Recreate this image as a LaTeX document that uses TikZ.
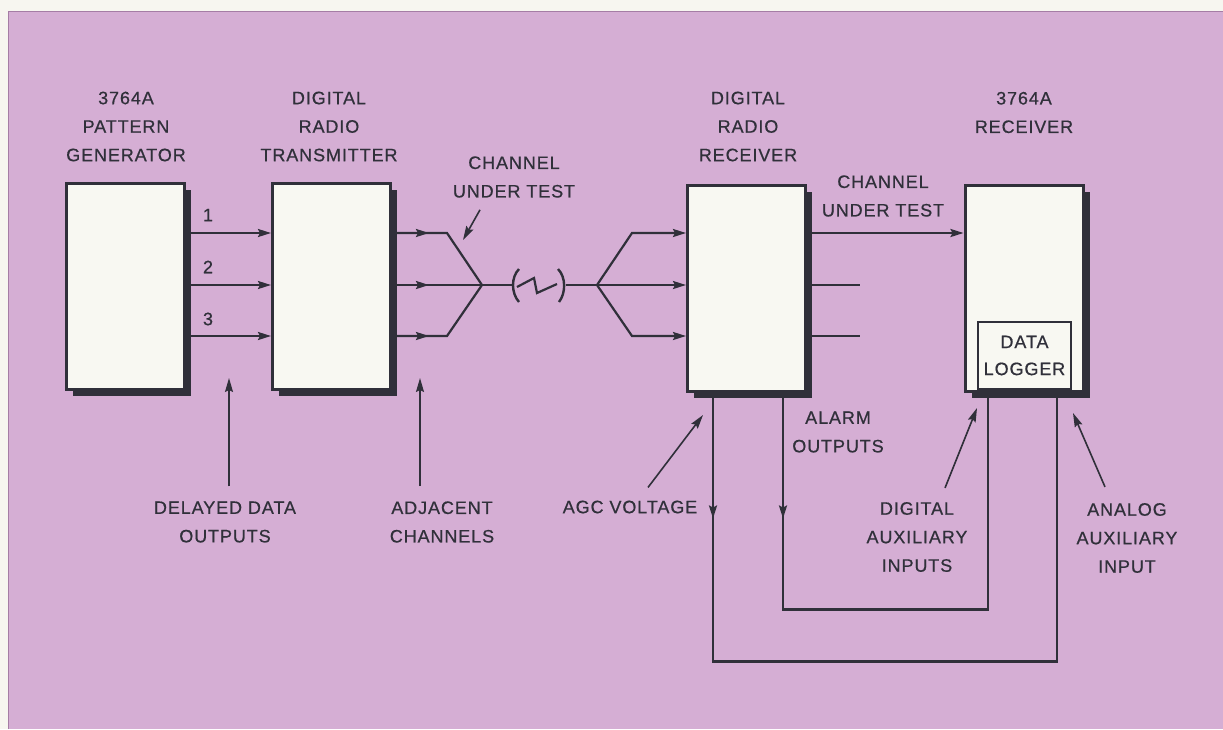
\documentclass[tikz,border=0pt]{standalone}
\usepackage{fontspec}
\setmainfont{Liberation Sans}[LetterSpace=5, FakeBold=0.6]
\usetikzlibrary{arrows.meta, decorations.markings, shadows}

\definecolor{paper}{RGB}{247,246,240}
\definecolor{panel}{RGB}{213,174,212}
\definecolor{panelrim}{RGB}{165,125,165}
\definecolor{ink}{RGB}{48,48,58}
\definecolor{boxwhite}{RGB}{248,248,242}

\begin{document}
\begin{tikzpicture}[x=1pt, y=-1pt,
  unitbox/.style={draw=ink, line width=3pt, fill=boxwhite, minimum width=118pt,
    minimum height=206pt, inner sep=0pt,
    drop shadow={shadow xshift=6.5pt, shadow yshift=-6.5pt, fill=ink, opacity=1}},
  logbox/.style={draw=ink, line width=2pt, fill=boxwhite, minimum width=93pt,
    minimum height=67pt, inner sep=0pt, text=ink, align=center,
    font=\fontsize{18pt}{27pt}\selectfont},
  lbl/.style={text=ink, align=center, inner sep=0pt, font=\fontsize{18pt}{28.5pt}\selectfont},
  conn/.style={draw=ink, line width=2.2pt},
  endtip/.style={-{Stealth[length=13pt,width=8pt,inset=2pt]}},
  midarrow/.style={postaction={decorate}, decoration={markings,
    mark=at position #1 with {\arrow{Stealth[length=13pt,width=8pt,inset=2pt]}}}},
  ptr/.style={draw=ink, line width=1.6pt, -{Stealth[length=14pt,width=8pt,inset=2pt]}}
]
\useasboundingbox (0,0) rectangle (1223,729);

% Panel
\fill[paper] (0,0) rectangle (1223,729);
\fill[panel] (8,11) rectangle (1223,729);
\draw[panelrim, line width=1pt] (8,729) -- (8,11) -- (1223,11);

% Units
\node[unitbox] (gen) at (125.5,286) {};
\node[unitbox] (tx) at (331.5,286) {};
\node[unitbox] (rx) at (746.5,288) {};
\node[unitbox] (rx2) at (1024,288) {};
\node[logbox] (log) at (1024.5,355.5) {DATA\\LOGGER};

% Unit titles
\node[lbl] (genl) at (126,126.5) {3764A\\PATTERN\\GENERATOR};
\node[lbl] (txl) at (329,126.5) {DIGITAL\\RADIO\\TRANSMITTER};
\node[lbl] (rxl) at (748,126.5) {DIGITAL\\RADIO\\RECEIVER};
\node[lbl] (rx2l) at (1024,112.5) {3764A\\RECEIVER};

% Rows and link points
\coordinate (r1) at (0,233);
\coordinate (r2) at (0,285);
\coordinate (r3) at (0,336);
\coordinate (fanL) at (482,285);
\coordinate (fanR) at (597,285);
\coordinate (gap) at (539,285);

% Delayed data outputs
\foreach \r/\n/\yy in {r1/1/215, r2/2/267, r3/3/319} {
  \draw[conn, endtip] (gen.east |- \r) -- (tx.west |- \r);
  \node[lbl] (n\n) at (208,\yy) {\n};
}

% Transmitter to link
\draw[conn, midarrow=37pt] (tx.east |- r1) -- (447,233) -- (fanL);
\draw[conn, midarrow=37pt] (tx.east |- r2) -- (fanL);
\draw[conn, midarrow=37pt] (tx.east |- r3) -- (447,336) -- (fanL);

% Radio link
\draw[conn] (fanL) -- ([xshift=-27pt]gap);
\draw[conn] ([xshift=27pt]gap) -- (fanR);
\begin{scope}[shift={(gap)}]
\draw[conn, line width=2.4pt] (-20,-16) .. controls (-28,-8) and (-28,8) .. (-20,17);
\draw[conn] (-22,2) -- (-5,-7) -- (-2,8) -- (18,-1);
\draw[conn, line width=2.4pt] (19,-16) .. controls (27,-8) and (27,8) .. (20,17);
\end{scope}

% Link to receiver
\draw[conn, endtip] (fanR) -- (632,233) -- (rx.west |- r1);
\draw[conn, endtip] (fanR) -- (rx.west |- r2);
\draw[conn, endtip] (fanR) -- (632,336) -- (rx.west |- r3);

% Receiver outputs
\draw[conn, endtip] (rx.east |- r1) -- (rx2.west |- r1);
\draw[conn] (rx.east |- r2) -- ++(53,0);
\draw[conn] (rx.east |- r3) -- ++(53,0);
\node[lbl] (chan2) at (883,196) {CHANNEL\\UNDER TEST};

% AGC and alarm loops
\draw[conn, midarrow=126pt] ([xshift=-33.5pt]rx.south) -- ++(0,269) -| ([xshift=33pt]rx2.south);
\draw[conn, midarrow=126pt] ([xshift=36.5pt]rx.south) -- ++(0,217) -| ([xshift=-36pt]rx2.south);
\node[lbl] (alm) at (838,432) {ALARM\\OUTPUTS};

% Callouts
\node[lbl] (chan1) at (514,177) {CHANNEL\\UNDER TEST};
\node[lbl] (dly) at (225,522) {DELAYED DATA\\OUTPUTS};
\node[lbl] (adj) at (442,522) {ADJACENT\\CHANNELS};
\node[lbl] (agc) at (630,507) {AGC VOLTAGE};
\node[lbl] (dig) at (917,537) {DIGITAL\\AUXILIARY\\INPUTS};
\node[lbl] (ana) at (1127,538) {ANALOG\\AUXILIARY\\INPUT};
\coordinate (h-chan) at (463,240);
\coordinate (h-dly) at (229,378);
\coordinate (h-adj) at (420,378);
\coordinate (h-agc) at (703,415);
\coordinate (h-dig) at (977,408);
\coordinate (h-ana) at (1073,413);
\draw[ptr] ([shift={(-34pt,-12pt)}]chan1.south) -- (h-chan);
\draw[ptr] ([shift={(4pt,15pt)}]dly.north) -- (h-dly);
\draw[ptr] ([shift={(-22pt,15pt)}]adj.north) -- (h-adj);
\draw[ptr] ([shift={(18pt,13pt)}]agc.north) -- (h-agc);
\draw[ptr] ([shift={(28pt,14pt)}]dig.north) -- (h-dig);
\draw[ptr] ([shift={(-22pt,16pt)}]ana.north) -- (h-ana);
\end{tikzpicture}
\end{document}
